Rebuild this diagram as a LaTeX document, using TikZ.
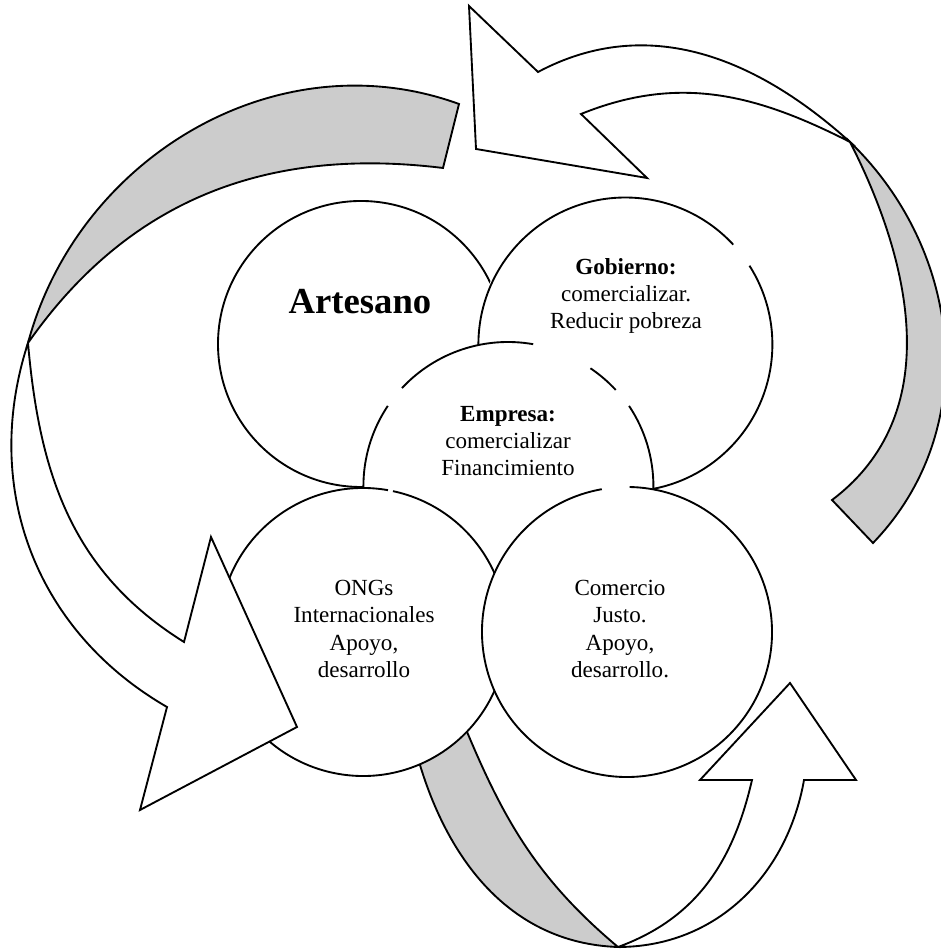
\documentclass[tikz,border=0pt]{standalone}
\usepackage{fontspec}
\setmainfont{Liberation Serif}
\begin{document}
\begin{tikzpicture}[x=0.75pt,y=0.75pt,
  band/.style={draw=black, line width=1.4pt, line join=miter},
  back/.style={band, fill=gray!40},
  front/.style={band, fill=white},
  disc/.style={circle, fill=white, inner sep=0pt, outer sep=0pt},
  rim/.style={draw=black, line width=1.4pt},
  body/.style={font=\fontsize{17.3}{20.3}\selectfont, align=center, inner sep=0pt},
  big/.style={font=\bfseries\fontsize{27.5}{33}\selectfont, inner sep=0pt}]
\useasboundingbox (0,0) rectangle (941,952);
\clip (0,0) rectangle (941,952);

% bottom curved arrow (under the circles)
\coordinate (bso) at (412,217);
\coordinate (bsi) at (456,247);
\coordinate (bx) at (618,5);
\coordinate (bjo) at (804,172);
\coordinate (bji) at (752,172);
\path[back] (bso) to[out=283, in=178] (bx) to[out=140, in=292] (bsi) -- cycle;
\path[front] (bx) to[out=0, in=260] (bjo) -- (856,172) -- (790,269) -- (700,172) -- (bji)
  to[out=257, in=20] (bx) -- cycle;

% circles
\node[disc, minimum size=214.5pt] (art) at (361,608) {};
\draw[rim] (art.center) circle[radius=143];
\node[disc, minimum size=220.5pt] (gob) at (624,609) {};
\draw[rim] (gob.42.8) arc[start angle=42.8, end angle=392.4, radius=147];
\node[disc, minimum size=217.5pt] (emp) at (508,465) {};
\draw[rim] (emp.42.8) arc[start angle=42.8, end angle=56, radius=145];
\draw[rim] (emp.80) arc[start angle=80, end angle=137, radius=145];
\draw[rim] (emp.146.3) arc[start angle=146.3, end angle=393.7, radius=145];
\node[disc, minimum size=216pt] (ong) at (363,320) {};
\draw[rim] (ong.80) arc[start angle=80, end angle=438, radius=144];
\node[disc, minimum size=217.5pt] (com) at (627,320) {};
\draw[rim] (com.100) arc[start angle=100, end angle=449, radius=145];

% texts
\node[big] (artT) at (360,650) {Artesano};
\node[body] (gobT) at (626,656) {\textbf{Gobierno:}\\comercializar.\\Reducir pobreza};
\node[body] (empT) at (508,511) {\textbf{Empresa:}\\comercializar\\Financimiento};
\node[body] (ongT) at (364,323) {ONGs\\Internacionales\\Apoyo,\\desarrollo};
\node[body] (comT) at (620,323) {Comercio\\Justo.\\Apoyo,\\desarrollo.};

% left curved arrow
\coordinate (lto) at (459,848);
\coordinate (lti) at (443,784);
\coordinate (lx) at (28,609);
\coordinate (ljo) at (167,245);
\coordinate (lji) at (184,310);
\path[back] (lto) to[out=160, in=75] (lx) to[out=55, in=173] (lti) -- cycle;
\path[front] (lx) to[out=252, in=150] (ljo) -- (140,142) -- (297,225) -- (211,415) -- (lji)
  to[out=148, in=275] (lx) -- cycle;

% upper right curved arrow
\coordinate (rx) at (850,810);
\coordinate (rto) at (873,409);
\coordinate (rti) at (832,452);
\coordinate (rjo) at (538,880);
\coordinate (rji) at (581,838);
\path[back] (rx) to[out=316, in=46] (rto) -- (rti) to[out=37, in=297] (rx) -- cycle;
\path[front] (rx) to[out=138, in=28] (rjo) -- (469,946) -- (476,803) -- (647,774) -- (rji)
  to[out=22, in=153] (rx) -- cycle;
\end{tikzpicture}
\end{document}
